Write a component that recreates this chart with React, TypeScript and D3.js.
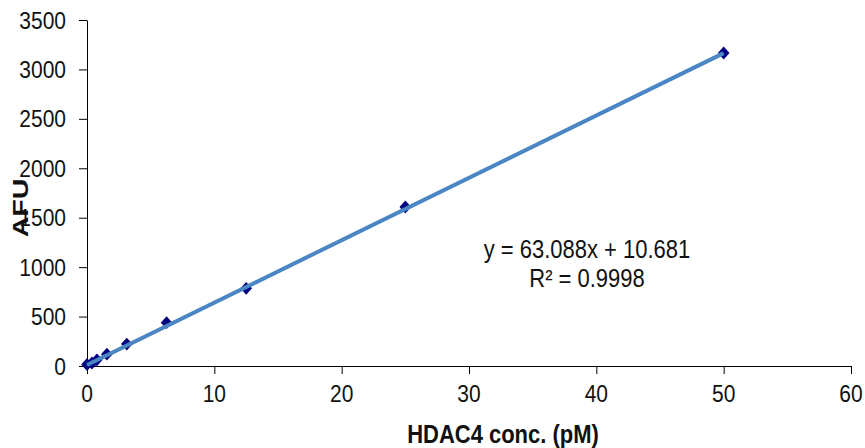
import React, { useRef, useEffect } from 'react';
import * as d3 from 'd3';

// HDAC4 standard curve
const concentrations = [0, 0.39, 0.78, 1.56, 3.125, 6.25, 12.5, 25, 50];
const afuValues = [15, 30, 62, 120, 222, 438, 786, 1608, 3166];
const slope = 63.088;
const intercept = 10.681;
const xTicks = [0, 10, 20, 30, 40, 50, 60];
const yTicks = [0, 500, 1000, 1500, 2000, 2500, 3000, 3500];

const W = 865;
const H = 448;
const STRETCH = 1.15; // the original picture is squashed horizontally

const App = () => {
  const svgRef = useRef<SVGSVGElement>(null);

  useEffect(() => {
    const svg = d3.select(svgRef.current);
    svg.selectAll('*').remove();

    const left = 87, right = 851, top = 20, bottom = 366;
    const font = 'Liberation Sans, Arial, sans-serif';

    const x = d3.scaleLinear().domain([0, 60]).range([left, right]);
    const y = d3.scaleLinear().domain([0, 3500]).range([bottom, top]);

    // axes (labels are drawn separately so they can be stretched)
    const xAxis = svg.append('g')
      .attr('transform', `translate(0,${bottom})`)
      .call(d3.axisBottom(x).tickValues(xTicks).tickSize(8).tickSizeOuter(8).tickFormat(() => ''));
    const yAxis = svg.append('g')
      .attr('transform', `translate(${left},0)`)
      .call(d3.axisLeft(y).tickValues(yTicks).tickSize(8).tickSizeOuter(0).tickFormat(() => ''));
    [xAxis, yAxis].forEach(a => {
      a.selectAll('path, line').attr('stroke', '#000').attr('stroke-width', 1);
    });

    const label = (tx: number, ty: number, txt: string, size: number, anchor: string, bold = false) =>
      svg.append('text')
        .attr('transform', `translate(${tx},${ty}) scale(1,${STRETCH})`)
        .attr('text-anchor', anchor)
        .attr('font-family', font)
        .attr('font-size', size)
        .attr('font-weight', bold ? 'bold' : 'normal')
        .attr('fill', '#111')
        .text(txt);

    xTicks.forEach(t => label(x(t), 402, String(t), 21, 'middle'));
    yTicks.forEach(t => label(66, y(t) + 8.6, String(t), 21, 'end'));

    // data markers
    const pts = concentrations.map((c, i) => ({ c, v: afuValues[i] }));
    svg.append('g')
      .selectAll('path')
      .data(pts)
      .enter()
      .append('path')
      .attr('d', d3.symbol().type(d3.symbolSquare).size(68))
      .attr('transform', d => `translate(${x(d.c)},${y(d.v)}) scale(1,1.1) rotate(45)`)
      .attr('fill', '#000080');

    // linear trendline on top
    const line = d3.line<number>()
      .x(d => x(d))
      .y(d => y(slope * d + intercept));
    svg.append('path')
      .datum([0, 50])
      .attr('d', line)
      .attr('fill', 'none')
      .attr('stroke', '#4a86c4')
      .attr('stroke-width', 4);

    // equation
    label(587, 258, `y = ${slope}x + ${intercept}`, 22, 'middle');
    label(587, 287, 'R² = 0.9998', 22, 'middle');

    // axis titles
    label(503, 443, 'HDAC4 conc. (pM)', 22, 'middle', true);
    svg.append('text')
      .attr('transform', `translate(28,208) rotate(-90) scale(1.3,1)`)
      .attr('text-anchor', 'middle')
      .attr('font-family', font)
      .attr('font-size', 22)
      .attr('font-weight', 'bold')
      .attr('fill', '#111')
      .text('AFU');
  }, []);

  return (
    <svg
      ref={svgRef}
      width={W}
      height={H}
      style={{ position: 'absolute', left: 0, top: 0, background: '#fff' }}
    />
  );
};

export default App;
